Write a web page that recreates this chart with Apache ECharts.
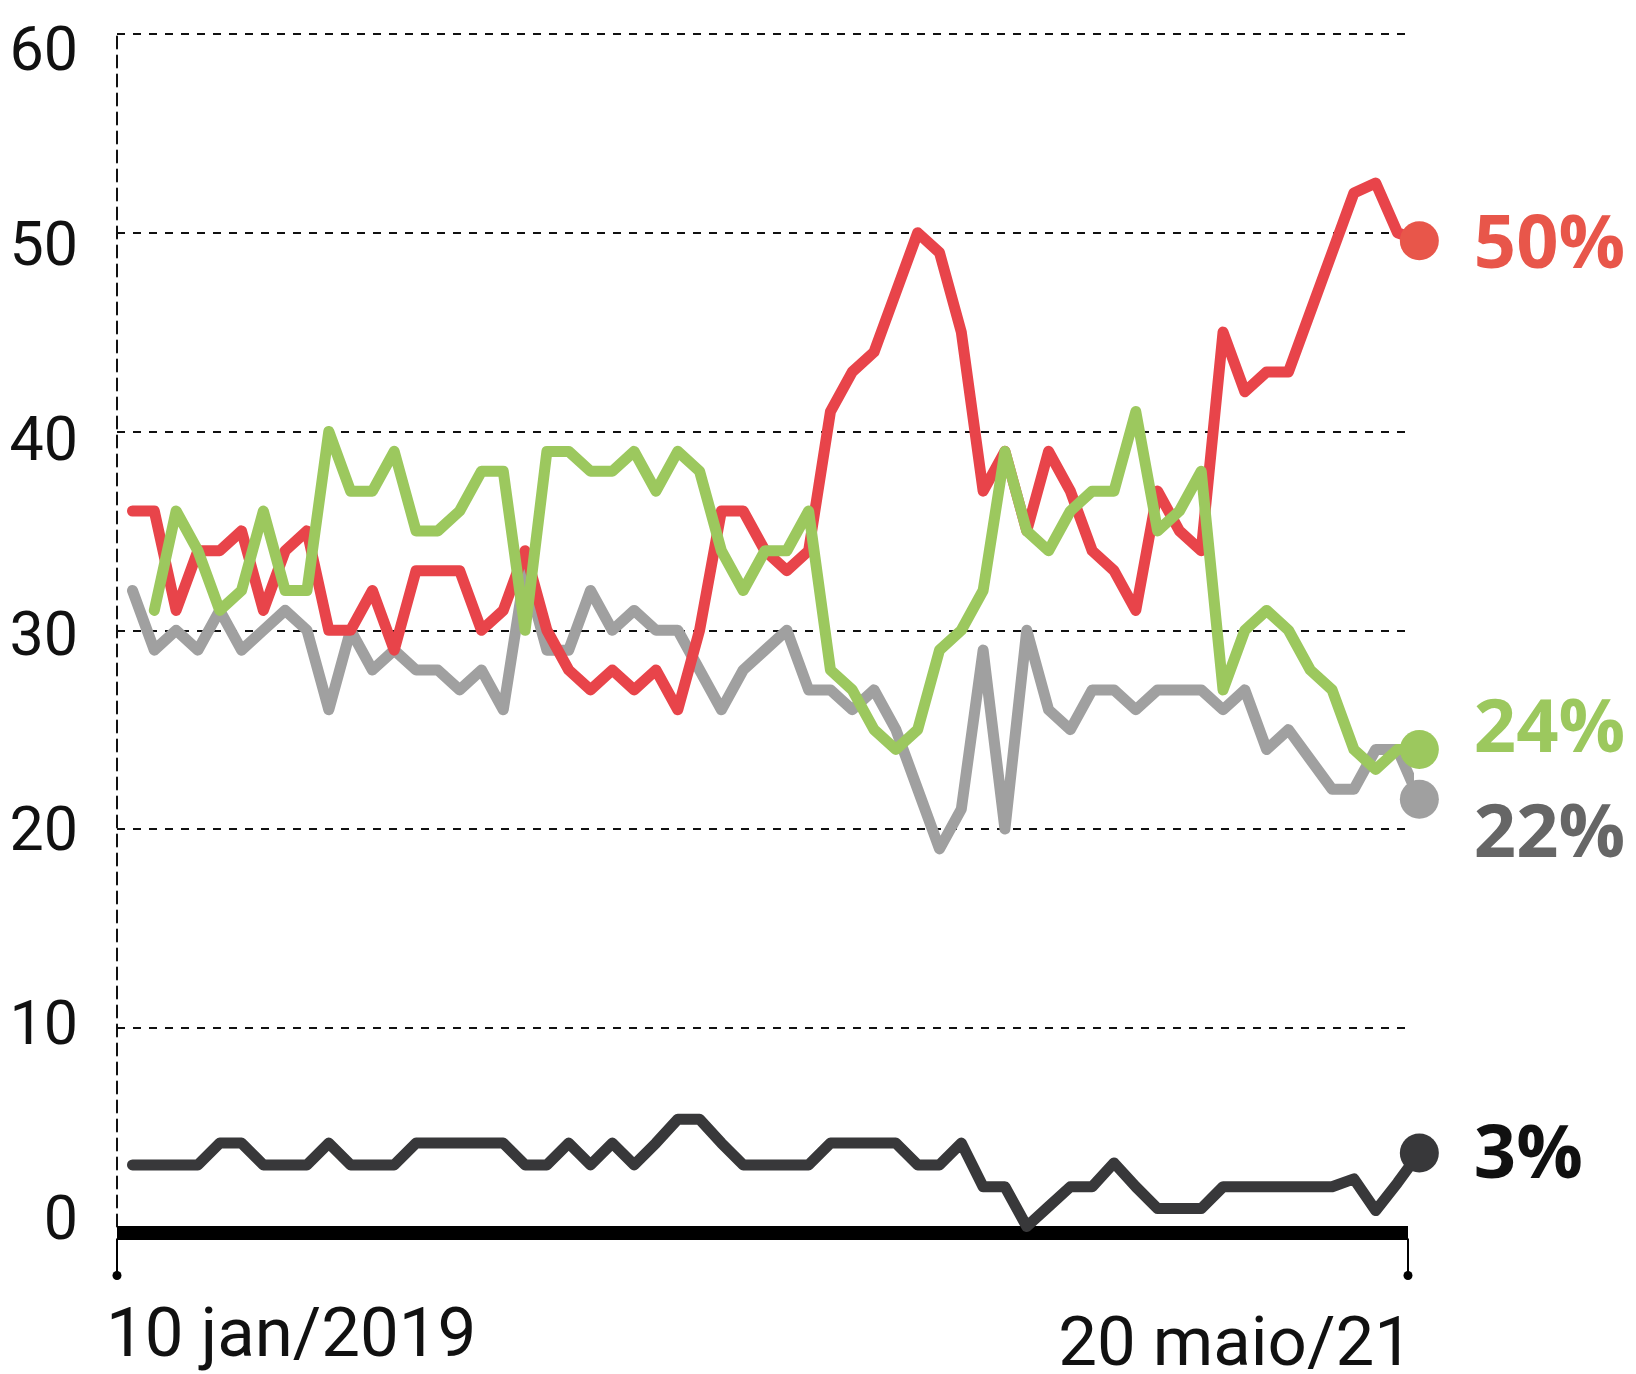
<!DOCTYPE html>
<html>
<head>
<meta charset="utf-8">
<title>Avaliação do governo</title>
<script src="https://cdn.jsdelivr.net/npm/echarts@6/dist/echarts.min.js"></script>
<style>
  html, body { margin: 0; padding: 0; background: #fff; }
  #chart { width: 1636px; height: 1374px; }
</style>
</head>
<body>
<div id="chart"></div>
<script>
// one value per poll, oldest first; the last value is the latest poll (big dot)
var ruimPessimo = [36, 36, 31, 34, 34, 35, 31, 34, 35, 30,
                   30, 32, 29, 33, 33, 33, 30, 31, 34, 30,
                   28, 27, 28, 27, 28, 26, 30, 36, 36, 34,
                   33, 34, 41, 43, 44, 47, 50, 49, 45, 37,
                   39, 35, 39, 37, 34, 33, 31, 37, 35, 34,
                   45, 42, 43, 43, 46, 49, 52, 52.5, 50, 49.6];
var otimoBom = [null, 31, 36, 34, 31, 32, 36, 32, 32, 40,
                37, 37, 39, 35, 35, 36, 38, 38, 30, 39,
                39, 38, 38, 39, 37, 39, 38, 34, 32, 34,
                34, 36, 28, 27, 25, 24, 25, 29, 30, 32,
                39, 35, 34, 36, 37, 37, 41, 35, 36, 38,
                27, 30, 31, 30, 28, 27, 24, 23, 24, 24];
var regular = [32, 29, 30, 29, 31, 29, 30, 31, 30, 26,
               30, 28, 29, 28, 28, 27, 28, 26, 33, 29,
               29, 32, 30, 31, 30, 30, 28, 26, 28, 29,
               30, 27, 27, 26, 27, 25, 22, 19, 21, 29,
               20, 30, 26, 25, 27, 27, 26, 27, 27, 27,
               26, 27, 24, 25, 23.5, 22, 22, 24, 24, 21.5];
var naoSabe = [3.1, 3.1, 3.1, 3.1, 4.2, 4.2, 3.1, 3.1, 3.1, 4.2,
               3.1, 3.1, 3.1, 4.2, 4.2, 4.2, 4.2, 4.2, 3.1, 3.1,
               4.2, 3.1, 4.2, 3.1, 4.2, 5.4, 5.4, 4.2, 3.1, 3.1,
               3.1, 3.1, 4.2, 4.2, 4.2, 4.2, 3.1, 3.1, 4.2, 2,
               2, 0, 1, 2, 2, 3.2, 2, 0.9, 0.9, 0.9,
               2, 2, 2, 2, 2, 2, 2.4, 0.8, 2.2, 3.7];

var yTicks = [0, 10, 20, 30, 40, 50, 60];
var dateLabels = ['10 jan/2019', '20 maio/21'];
var endTexts = { ruim: '50%', otimo: '24%', regular: '22%', naoSabe: '3%' };

// x axis runs a little past the first and last regular poll
var xMin = -0.71, xMax = 58.48;

var TXT = 'Roboto, "Noto Sans", sans-serif';

function pairs(arr) {
  return arr.map(function (v, i) { return [i, v]; });
}

function makeLine(data, lineColor, dotColor, labelColor, label, shiftY) {
  var last = data.length - 1;
  var items = pairs(data);
  items[last] = {
    value: items[last],
    label: {
      show: true,
      position: 'right',
      distance: 35,
      offset: [0, shiftY],
      formatter: label,
      color: labelColor,
      fontFamily: '"Open Sans", sans-serif',
      fontWeight: 'bold',
      fontSize: 74
    }
  };
  return {
    type: 'line',
    data: items,
    clip: false,
    silent: true,
    symbol: 'circle',
    symbolSize: function (v, p) { return p.dataIndex === last ? 39 : 0; },
    itemStyle: { color: dotColor, borderWidth: 0 },
    lineStyle: { color: lineColor, width: 11, cap: 'round', join: 'round' },
    label: { show: false },
    emphasis: { disabled: true }
  };
}

var chart = echarts.init(document.getElementById('chart'));

var option = {
  animation: false,
  backgroundColor: '#ffffff',
  grid: { left: 117, right: 228, top: 34, bottom: 147.5, containLabel: false },
  xAxis: {
    type: 'value',
    min: xMin,
    max: xMax,
    offset: 6,
    axisLine: { show: true, onZero: false, lineStyle: { color: '#000', width: 14, cap: 'butt' } },
    axisTick: { show: false },
    axisLabel: { show: false },
    splitLine: { show: false }
  },
  yAxis: [{
    type: 'value',
    min: 0,
    max: 60,
    interval: 10,
    axisLine: { show: true, onZero: false, lineStyle: { color: '#111', width: 2, type: [12, 7] } },
    axisTick: { show: false },
    axisLabel: { show: false },
    splitLine: { show: true, lineStyle: { color: '#111', width: 2, type: [8, 8] } }
  }, {
    // labels only: the printed numbers sit a bit tighter than the grid lines
    type: 'value',
    position: 'left',
    min: -0.124,
    max: 61.066,
    axisLine: { show: false },
    axisTick: { show: false },
    splitLine: { show: false },
    axisLabel: {
      show: true,
      customValues: yTicks,
      margin: 39,
      color: '#111',
      fontFamily: TXT,
      fontSize: 61,
      formatter: function (v) {
        return yTicks.indexOf(Math.round(v * 1000) / 1000) >= 0 ? String(v) : '';
      }
    }
  }],
  series: [
    makeLine(naoSabe, '#38383a', '#38383a', '#111111', endTexts.naoSabe, 4),
    makeLine(regular, '#a0a0a0', '#a0a0a0', '#666666', endTexts.regular, 37),
    makeLine(ruimPessimo, '#e8444a', '#e8564a', '#e8564a', endTexts.ruim, 6),
    makeLine(otimoBom, '#9cc85e', '#9cc85e', '#9cc85e', endTexts.otimo, -19)
  ]
};

chart.setOption(option);

// end ticks with dots and the two date labels, placed through the axis scale
var pA = chart.convertToPixel({ xAxisIndex: 0, yAxisIndex: 0 }, [xMin, 0]);
var pB = chart.convertToPixel({ xAxisIndex: 0, yAxisIndex: 0 }, [xMax, 0]);
var extras = [];
[pA, pB].forEach(function (p) {
  extras.push({ type: 'line', silent: true,
    shape: { x1: p[0], y1: p[1] + 12, x2: p[0], y2: p[1] + 49 },
    style: { stroke: '#000', lineWidth: 2 } });
  extras.push({ type: 'circle', silent: true,
    shape: { cx: p[0], cy: p[1] + 49, r: 4.5 },
    style: { fill: '#000' } });
});
extras.push({ type: 'text', silent: true, x: pA[0] - 11, y: pA[1] + 78,
  style: { text: dateLabels[0], font: '69px ' + TXT, fill: '#111', align: 'left', verticalAlign: 'top' } });
extras.push({ type: 'text', silent: true, x: pB[0] + 5, y: pB[1] + 87,
  style: { text: dateLabels[1], font: '69px ' + TXT, fill: '#111', align: 'right', verticalAlign: 'top' } });

chart.setOption({ graphic: extras });
</script>
</body>
</html>
